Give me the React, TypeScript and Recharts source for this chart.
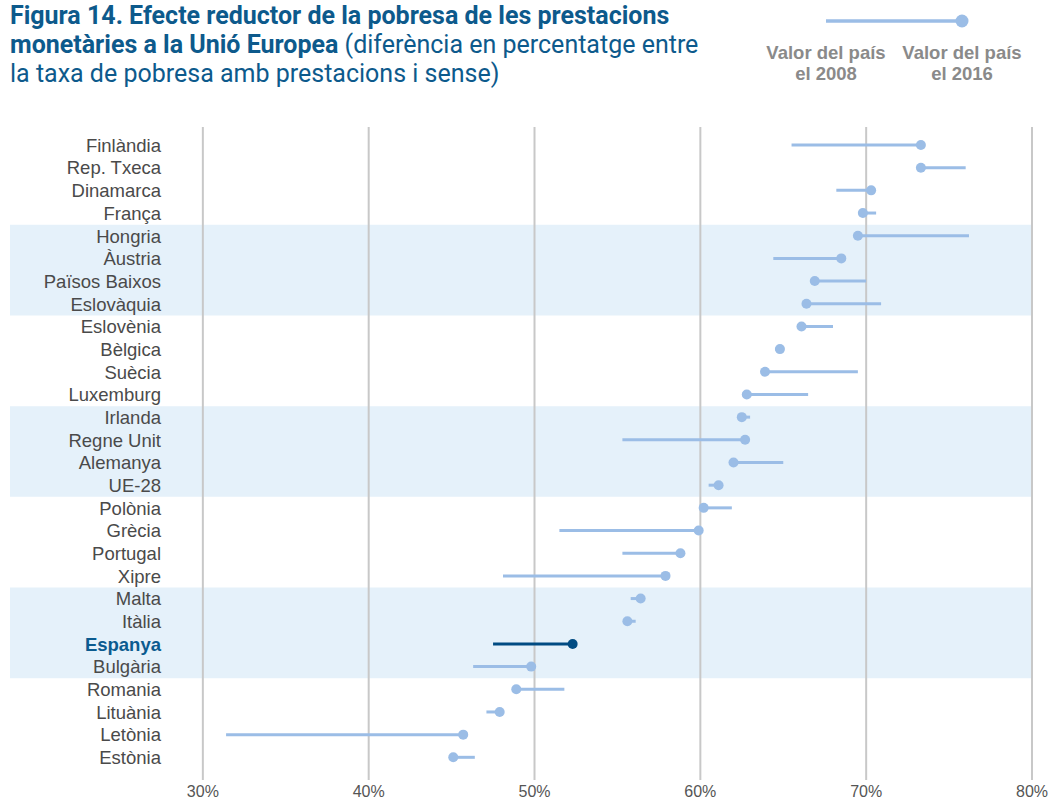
import React from 'react';
import {
  ComposedChart,
  Bar,
  XAxis,
  YAxis,
  CartesianGrid,
  ReferenceArea
} from 'recharts';

// rows top to bottom
const COUNTRIES = [
  'Finlàndia', 'Rep. Txeca', 'Dinamarca', 'França', 'Hongria', 'Àustria', 'Països Baixos',
  'Eslovàquia', 'Eslovènia', 'Bèlgica', 'Suècia', 'Luxemburg', 'Irlanda', 'Regne Unit',
  'Alemanya', 'UE-28', 'Polònia', 'Grècia', 'Portugal', 'Xipre', 'Malta', 'Itàlia',
  'Espanya', 'Bulgària', 'Romania', 'Lituània', 'Letònia', 'Estònia'
];
const VALUE_2008 = [
  65.5, 76.0, 68.2, 70.6, 76.2, 64.4, 70.0, 70.9, 68.0, 64.5, 69.5, 66.5, 63.0, 55.3,
  65.0, 60.5, 61.9, 51.5, 55.3, 48.1, 55.8, 56.1, 47.5, 46.3, 51.8, 47.1, 31.4, 46.4
];
const VALUE_2016 = [
  73.3, 73.3, 70.3, 69.8, 69.5, 68.5, 66.9, 66.4, 66.1, 64.8, 63.9, 62.8, 62.5, 62.7,
  62.0, 61.1, 60.2, 59.9, 58.8, 57.9, 56.4, 55.6, 52.3, 49.8, 48.9, 47.9, 45.7, 45.1
];
const X_TICKS = [30, 40, 50, 60, 70, 80];
const BANDS = [
  ['Hongria', 'Eslovàquia'],
  ['Irlanda', 'UE-28'],
  ['Malta', 'Bulgària']
];
const HIGHLIGHT = 'Espanya';

const LIGHT = '#9bbde6';
const DARK = '#004b82';
const TITLE_BLUE = '#0d5a8c';
const FONT = '"Liberation Sans", Arial, sans-serif';

const data = COUNTRIES.map((name, i) => ({
  name,
  v2008: VALUE_2008[i],
  v2016: VALUE_2016[i],
  range: [Math.min(VALUE_2008[i], VALUE_2016[i]), Math.max(VALUE_2008[i], VALUE_2016[i])]
}));

// line from 2008 value to 2016 value, dot on the 2016 end
const Dumbbell = (props: any) => {
  const { x, y, width, height, payload } = props;
  const cy = y + height / 2;
  const color = payload.name === HIGHLIGHT ? DARK : LIGHT;
  const dotX = payload.v2016 >= payload.v2008 ? x + width : x;
  return (
    <g>
      <line x1={x} x2={x + width} y1={cy} y2={cy} stroke={color} strokeWidth={3} />
      <circle cx={dotX} cy={cy} r={5} fill={color} />
    </g>
  );
};

const renderCountryTick = (props: any) => {
  const { y, payload } = props;
  const hi = payload.value === HIGHLIGHT;
  return (
    <text
      x={161}
      y={y}
      dy="0.35em"
      textAnchor="end"
      fontFamily={FONT}
      fontSize={18.5}
      fontWeight={hi ? 700 : 400}
      fill={hi ? '#0b5b8f' : '#4a4a4a'}
    >
      {payload.value}
    </text>
  );
};

const LegendBox = () => (
  <svg width={1051} height={100} style={{ position: 'absolute', left: 0, top: 0 }}>
    <line x1={826} x2={962} y1={21} y2={21} stroke={LIGHT} strokeWidth={3.5} />
    <circle cx={962} cy={21} r={6.5} fill={LIGHT} />
    {[826, 962].map((cx, i) => (
      <text key={i} x={cx} textAnchor="middle" fontFamily={FONT} fontSize={18.5} fontWeight={700} fill="#8a8a8a">
        <tspan x={cx} y={59}>Valor del país</tspan>
        <tspan x={cx} y={80}>{i === 0 ? 'el 2008' : 'el 2016'}</tspan>
      </text>
    ))}
  </svg>
);

export default function App() {
  return (
    <div style={{ position: 'absolute', left: 0, top: 0, width: 1051, height: 802, background: '#fff', overflow: 'hidden' }}>
      <div
        style={{
          position: 'absolute',
          left: 10,
          top: 1,
          fontFamily: '"Roboto", sans-serif',
          fontSize: 25,
          lineHeight: '29px',
          color: TITLE_BLUE,
          width: 740
        }}
      >
        <b>Figura 14. Efecte reductor de la pobresa de les prestacions</b>
        <br />
        <b>monetàries a la Unió Europea</b> (diferència en percentatge entre
        <br />
        la taxa de pobresa amb prestacions i sense)
      </div>
      <LegendBox />
      <div style={{ position: 'absolute', left: 0, top: 0 }}>
        <ComposedChart
          width={1051}
          height={802}
          data={data}
          layout="vertical"
          margin={{ top: 127, right: 19, left: 9, bottom: 0 }}
        >
          {BANDS.map(([a, b]) => (
            <ReferenceArea
              key={a}
              y1={a}
              y2={b}
              fill="#e5f1fa"
              fillOpacity={1}
              stroke="none"
              zIndex={-150}
              ifOverflow="visible"
            />
          ))}
          <CartesianGrid horizontal={false} verticalValues={X_TICKS} stroke="#c8c8c8" strokeWidth={2} />
          <XAxis
            type="number"
            domain={[18.37, 80]}
            ticks={X_TICKS}
            allowDataOverflow
            tickFormatter={(v) => `${v}%`}
            axisLine={false}
            tickLine={false}
            tickSize={0}
            tickMargin={6}
            height={22}
            tick={{ fontSize: 16, fill: '#555', fontFamily: FONT }}
          />
          <YAxis
            type="category"
            dataKey="name"
            width={1}
            axisLine={false}
            tickLine={false}
            interval={0}
            padding={{ top: 7, bottom: 11 }}
            tick={renderCountryTick}
          />
          <Bar dataKey="range" barSize={10} shape={<Dumbbell />} isAnimationActive={false} />
        </ComposedChart>
      </div>
    </div>
  );
}
